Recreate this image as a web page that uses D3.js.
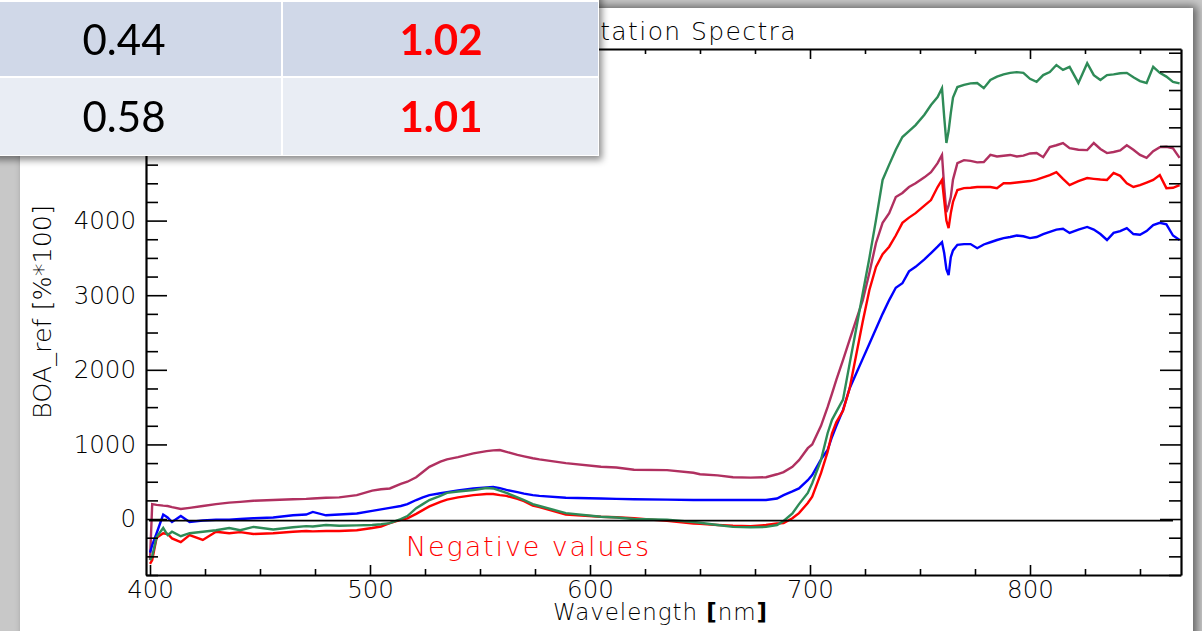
<!DOCTYPE html>
<html>
<head>
<meta charset="utf-8">
<script src="https://cdn.jsdelivr.net/npm/d3@7"></script>
<style>
  html, body { margin: 0; padding: 0; background: #ffffff; }
  svg { display: block; }
</style>
</head>
<body>
<svg id="chart" width="1202" height="631"></svg>
<script>
// ---------- DATA ----------
const wavelengths = [400,401,403,406,408,410,414,418,424,430,436,441,447,456,465,471,474,480,486,494,
  501,505,509,514,517,521,524,527,532,535,540,547,553,556,559,562,567,570,574,577,589,605,612,620,635,
  647,650,658,665,673,680,685,688,692,695,699,701,705,708,710,712,715,718,721,724,727,730,733,736,739,
  742,745,748,752,755,758,760,761,762,763,764,765,767,770,773,776,779,782,785,788,791,794,797,800,803,
  806,809,812,815,818,822,826,829,832,835,838,841,844,847,850,853,856,859,862,865,868];

const maroonValues = [-550,200,190,180,175,160,135,150,175,200,220,230,245,255,265,270,275,285,290,320,
  380,400,410,470,500,560,630,700,770,800,830,880,910,920,925,900,860,840,815,800,750,700,690,660,655,
  620,600,585,560,555,560,600,630,700,790,950,1000,1250,1500,1680,1870,2130,2400,2670,2935,3300,3700,3970,4100,4315,
  4370,4450,4500,4580,4650,4770,4880,4450,4115,4200,4315,4550,4770,4810,4800,4780,4785,4880,4860,4870,4880,4860,4870,4900,4905,
  4850,4985,5010,5040,4970,4950,4945,5040,4960,4905,4920,4940,5010,4950,4880,4840,4930,4985,4990,4970,4840];

const blueValues = [-450,-350,-190,60,20,-40,40,-40,-20,-10,-10,0,10,20,50,60,95,50,60,75,
  110,130,150,175,200,255,290,320,345,360,385,410,425,430,415,390,360,340,320,310,285,275,270,265,260,
  255,255,255,255,255,255,275,320,370,410,520,590,800,925,1100,1250,1460,1750,1950,2150,2350,2550,2750,2935,3100,
  3160,3320,3380,3480,3565,3650,3710,3565,3350,3270,3510,3600,3675,3685,3685,3630,3680,3710,3740,3765,3780,3800,3790,3765,3780,
  3820,3850,3880,3890,3835,3880,3915,3880,3820,3740,3835,3860,3900,3820,3810,3860,3940,3970,3950,3800,3740];

const redValues = [-600,-550,-250,-190,-200,-260,-310,-215,-280,-170,-190,-175,-200,-190,-170,-160,-165,-160,-160,-150,
  -120,-100,-55,-10,10,70,120,170,230,260,290,320,335,335,320,310,270,240,180,160,60,30,25,10,-25,
  -60,-65,-80,-90,-95,-80,-60,-55,10,80,215,300,615,900,1150,1300,1450,1750,2200,2650,3070,3380,3550,3650,3800,
  3970,4040,4100,4200,4275,4450,4545,4275,4000,3900,4100,4250,4410,4435,4440,4450,4450,4450,4435,4500,4500,4510,4520,4530,4550,
  4580,4610,4650,4560,4475,4530,4570,4560,4550,4545,4640,4600,4500,4450,4475,4510,4545,4610,4435,4440,4475];

const greenValues = [-550,-500,-240,-120,-215,-170,-230,-190,-170,-150,-120,-150,-105,-140,-110,-95,-100,-80,-90,-85,
  -80,-70,-55,0,40,145,200,255,310,350,370,390,415,410,380,350,290,255,200,175,80,30,20,0,-10,
  -40,-50,-80,-105,-110,-105,-80,-25,75,200,350,480,790,1150,1330,1440,1600,2080,2550,3030,3500,4010,4545,4750,4950,
  5120,5200,5280,5420,5550,5655,5775,5390,5040,5200,5440,5650,5790,5820,5840,5845,5775,5885,5930,5960,5980,5990,5980,5900,5860,
  5950,5990,6085,6020,6060,5845,6110,5950,5885,5950,5960,5975,5980,5920,5870,5845,6060,5980,5930,5860,5840];

const seriesNames = ["maroon", "blue", "red", "green"];
const seriesColors = ["#b03060", "#0000ff", "#ff0000", "#2e8b57"];
const seriesValues = [maroonValues, blueValues, redValues, greenValues];

const xMajorTicks = [400, 500, 600, 700, 800];
const yMajorTicks = [0, 1000, 2000, 3000, 4000, 5000, 6000];
const yLabelledTicks = [0, 1000, 2000, 3000, 4000];
const tableRows = [["0.44", "1.02"], ["0.58", "1.01"]];

const titleText = "Vegetation Spectra";
const xTitle = "Wavelength ";
const yTitle = "BOA_ref [%*100]";
const noteText = "Negative values";

// ---------- LAYOUT ----------
const svg = d3.select("#chart");
const W = 1202, H = 631;
const plotLeft = 146, plotRight = 1181, plotTop = 49, plotBottom = 575;

const defs = svg.append("defs");
const f1 = defs.append("filter").attr("id", "shadow").attr("x", "-10%").attr("y", "-10%").attr("width", "130%").attr("height", "140%");
f1.append("feDropShadow").attr("dx", 3).attr("dy", 4).attr("stdDeviation", 3.5).attr("flood-color", "#000").attr("flood-opacity", 0.45);
const f2 = defs.append("filter").attr("id", "panelShadow").attr("x", "-5%").attr("y", "-5%").attr("width", "110%").attr("height", "110%");
f2.append("feDropShadow").attr("dx", 4).attr("dy", -2).attr("stdDeviation", 4).attr("flood-color", "#000").attr("flood-opacity", 0.5);

// background + panel
svg.append("rect").attr("width", W).attr("height", H).attr("fill", "#c8c8c8");
svg.append("rect").attr("x", 20).attr("y", 8).attr("width", 1173).attr("height", 640)
  .attr("fill", "#ffffff").attr("filter", "url(#panelShadow)");

const x = d3.scaleLinear().domain([398.18, 868.64]).range([plotLeft, plotRight]);
const y = d3.scaleLinear().domain([-750, 6300]).range([plotBottom, plotTop]);

const font = "'DejaVu Sans', sans-serif";

// title (left part hidden under the table, as in the reference)
svg.append("text").attr("x", 797).attr("y", 40).attr("text-anchor", "end").attr("font-family", font).attr("font-size", 25)
  .attr("font-weight", 200).attr("letter-spacing", 1.4).attr("fill", "#000").text(titleText);

// lines
const plot = svg.append("g");
const line = d3.line().x((d, i) => x(wavelengths[i])).y(d => y(d)).curve(d3.curveLinear);
seriesValues.forEach((vals, k) => {
  plot.append("path").datum(vals).attr("fill", "none").attr("stroke", seriesColors[k])
    .attr("stroke-width", 2.4).attr("stroke-linejoin", "miter").attr("d", line);
});

// zero line
plot.append("line").attr("x1", x(399.5)).attr("x2", x(865)).attr("y1", y(0) + 1.5).attr("y2", y(0) + 1.5)
  .attr("stroke", "#000").attr("stroke-width", 1.8);

// axes
const xMinor = d3.range(400, 869, 25).filter(v => v % 100 !== 0);
const yMinor = d3.range(-750, 6300, 250).filter(v => v % 1000 !== 0);

function styleAxis(g) {
  g.select(".domain").attr("stroke-width", 2.2);
  g.selectAll(".tick line").attr("stroke-width", 1.6);
  g.selectAll("text").attr("font-family", font).attr("font-size", 24.5).attr("font-weight", 200).attr("fill", "#000");
}

svg.append("g").attr("transform", `translate(0,${plotBottom})`)
  .call(d3.axisBottom(x).tickValues(xMajorTicks).tickSizeInner(-10).tickSizeOuter(0).tickPadding(6).tickFormat(d3.format("d")))
  .call(styleAxis);
svg.append("g").attr("transform", `translate(0,${plotBottom})`)
  .call(d3.axisBottom(x).tickValues(xMinor).tickSizeInner(-6).tickSizeOuter(0).tickFormat(""))
  .call(styleAxis).select(".domain").remove();

svg.append("g").attr("transform", `translate(0,${plotTop})`)
  .call(d3.axisTop(x).tickValues(xMajorTicks).tickSizeInner(-10).tickSizeOuter(0).tickFormat(""))
  .call(styleAxis);
svg.append("g").attr("transform", `translate(0,${plotTop})`)
  .call(d3.axisTop(x).tickValues(xMinor).tickSizeInner(-5).tickSizeOuter(0).tickFormat(""))
  .call(styleAxis).select(".domain").remove();

svg.append("g").attr("transform", `translate(${plotLeft},0)`)
  .call(d3.axisLeft(y).tickValues(yMajorTicks).tickSizeInner(-21).tickSizeOuter(0).tickPadding(10)
    .tickFormat(d => yLabelledTicks.includes(d) ? d3.format("d")(d) : ""))
  .call(styleAxis);
svg.append("g").attr("transform", `translate(${plotLeft},0)`)
  .call(d3.axisLeft(y).tickValues(yMinor).tickSizeInner(-12).tickSizeOuter(0).tickFormat(""))
  .call(styleAxis).select(".domain").remove();

svg.append("g").attr("transform", `translate(${plotRight},0)`)
  .call(d3.axisRight(y).tickValues(yMajorTicks).tickSizeInner(-21).tickSizeOuter(0).tickFormat(""))
  .call(styleAxis);
svg.append("g").attr("transform", `translate(${plotRight},0)`)
  .call(d3.axisRight(y).tickValues(yMinor).tickSizeInner(-12).tickSizeOuter(0).tickFormat(""))
  .call(styleAxis).select(".domain").remove();

// axis titles
const xt = svg.append("text").attr("x", 660).attr("y", 620).attr("text-anchor", "middle")
  .attr("font-family", font).attr("font-size", 23).attr("font-weight", 200).attr("fill", "#000")
  .attr("textLength", 214).attr("lengthAdjust", "spacing");
xt.append("tspan").text(xTitle);
xt.append("tspan").attr("font-weight", 700).text("[");
xt.append("tspan").text("nm");
xt.append("tspan").attr("font-weight", 700).text("]");

svg.append("text").attr("transform", "translate(51,312) rotate(-90)").attr("text-anchor", "middle")
  .attr("font-family", font).attr("font-size", 24).attr("font-weight", 200).attr("fill", "#000")
  .attr("textLength", 214).attr("lengthAdjust", "spacingAndGlyphs").text(yTitle);

// annotation
svg.append("text").attr("x", 406).attr("y", 556).attr("font-family", font).attr("font-size", 27)
  .attr("font-weight", 200).attr("fill", "#ff0000").attr("textLength", 243).attr("lengthAdjust", "spacing").text(noteText);

// ---------- TABLE OVERLAY ----------
const tbl = svg.append("g").attr("filter", "url(#shadow)");
tbl.append("rect").attr("x", -10).attr("y", -10).attr("width", 609).attr("height", 166).attr("fill", "#ffffff");
const rowY = [[2, 76], [78, 155]];
const colX = [[-10, 281], [283, 598]];
const rowFill = ["#d0d8e8", "#e9edf4"];
tableRows.forEach((row, r) => {
  row.forEach((val, c) => {
    tbl.append("rect").attr("x", colX[c][0]).attr("y", rowY[r][0])
      .attr("width", colX[c][1] - colX[c][0]).attr("height", rowY[r][1] - rowY[r][0]).attr("fill", rowFill[r]);
    tbl.append("text").attr("x", c === 0 ? 124 : 441).attr("y", r === 0 ? 55 : 132)
      .attr("text-anchor", "middle").attr("font-family", "Lato, 'Open Sans', sans-serif").attr("font-size", 42)
      .attr("font-weight", c === 0 ? 400 : 700).attr("fill", c === 0 ? "#000" : "#ff0000").text(val);
  });
});
</script>
</body>
</html>
